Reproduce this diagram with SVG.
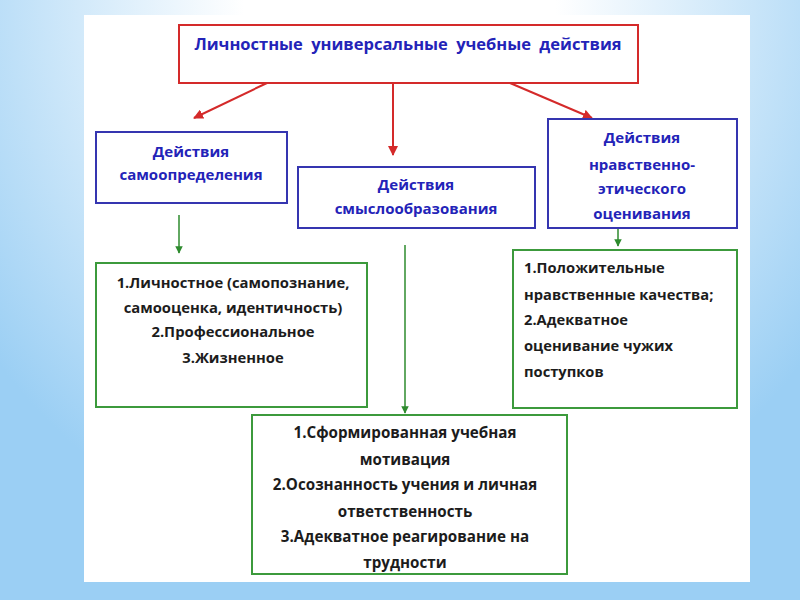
<svg xmlns="http://www.w3.org/2000/svg" width="800" height="600" viewBox="0 0 800 600">
<defs>
<radialGradient id="bg" cx="400" cy="0" r="520" gradientUnits="userSpaceOnUse" gradientTransform="translate(400 0) scale(1 1.1) translate(-400 0)">
<stop offset="0.3" stop-color="#ffffff"/>
<stop offset="1" stop-color="#9bcff4"/>
</radialGradient>
<marker id="ar" viewBox="0 0 10 10" refX="9" refY="5" markerWidth="5" markerHeight="5" orient="auto"><path d="M0,0 L10,5 L0,10 z" fill="#d42a2a"/></marker>
<marker id="ag" viewBox="0 0 10 10" refX="9" refY="5" markerWidth="5" markerHeight="5" orient="auto"><path d="M0,0 L10,5 L0,10 z" fill="#2e8b2e"/></marker>
<style>
.red{fill:#fff;stroke:#d42a2a;stroke-width:2}
.blue{fill:#fff;stroke:#3535b0;stroke-width:2}
.green{fill:#fff;stroke:#3c9a3c;stroke-width:2}
.bt{font-family:"Open Sans","Liberation Sans",sans-serif;font-weight:700;fill:#2323b8;font-size:15px;text-anchor:middle}
.tt{font-family:"Open Sans","Liberation Sans",sans-serif;font-weight:700;fill:#2323b8;font-size:16.5px;text-anchor:middle;word-spacing:4px}
.kt{font-family:"Open Sans","Liberation Sans",sans-serif;font-weight:700;fill:#1c1c1c;font-size:14.8px;text-anchor:middle}
.kb{font-family:"Open Sans","Liberation Sans",sans-serif;font-weight:700;fill:#1c1c1c;font-size:15.2px;text-anchor:middle}
.kl{font-family:"Open Sans","Liberation Sans",sans-serif;font-weight:700;fill:#1c1c1c;font-size:14.7px}
.cr{stroke:#d42a2a;stroke-width:2;fill:none;marker-end:url(#ar)}
.cg{stroke:#2e8b2e;stroke-width:1.5;fill:none;marker-end:url(#ag)}
</style>
</defs>
<rect width="800" height="600" fill="url(#bg)"/>
<rect x="84" y="15" width="666" height="567" fill="#fff"/>
<g id="connectors">
<line class="cr" x1="267" y1="83" x2="194" y2="118"/>
<line class="cr" x1="393" y1="83" x2="393" y2="155"/>
<line class="cr" x1="510" y1="83" x2="592" y2="118"/>
<line class="cg" x1="179" y1="215" x2="179" y2="253"/>
<line class="cg" x1="405" y1="245" x2="405" y2="413"/>
<line class="cg" x1="618" y1="229" x2="618" y2="246"/>
</g>
<g id="top">
<rect class="red" x="179" y="25" width="459" height="58"/>
<text class="tt" x="408" y="50">Личностные универсальные учебные действия</text>
</g>
<g id="self">
<rect class="blue" x="96" y="132" width="191" height="71"/>
<text class="bt" x="191" y="157">Действия</text>
<text class="bt" x="191" y="180">самоопределения</text>
</g>
<g id="meaning">
<rect class="blue" x="298" y="167" width="237" height="61"/>
<text class="bt" x="416" y="190">Действия</text>
<text class="bt" x="416" y="214">смыслообразования</text>
</g>
<g id="moral">
<rect class="blue" x="548" y="119" width="189" height="109"/>
<text class="bt" x="642" y="143">Действия</text>
<text class="bt" x="642" y="170">нравственно-</text>
<text class="bt" x="642" y="194">этического</text>
<text class="bt" x="642" y="219">оценивания</text>
</g>
<g id="self-res">
<rect class="green" x="96" y="263" width="271" height="144"/>
<text class="kt" x="233" y="288">1.Личностное (самопознание,</text>
<text class="kt" x="233" y="313">самооценка, идентичность)</text>
<text class="kt" x="233" y="337">2.Профессиональное</text>
<text class="kt" x="233" y="363">3.Жизненное</text>
</g>
<g id="moral-res">
<rect class="green" x="513" y="250" width="224" height="158"/>
<text class="kl" x="524" y="273">1.Положительные</text>
<text class="kl" x="524" y="300">нравственные качества;</text>
<text class="kl" x="524" y="325">2.Адекватное</text>
<text class="kl" x="524" y="351">оценивание чужих</text>
<text class="kl" x="524" y="377">поступков</text>
</g>
<g id="meaning-res">
<rect class="green" x="252" y="415" width="315" height="159"/>
<text class="kb" x="405" y="438">1.Сформированная учебная</text>
<text class="kb" x="405" y="465">мотивация</text>
<text class="kb" x="405" y="490">2.Осознанность учения и личная</text>
<text class="kb" x="405" y="517">ответственность</text>
<text class="kb" x="405" y="542">3.Адекватное реагирование на</text>
<text class="kb" x="405" y="568">трудности</text>
</g>
</svg>
